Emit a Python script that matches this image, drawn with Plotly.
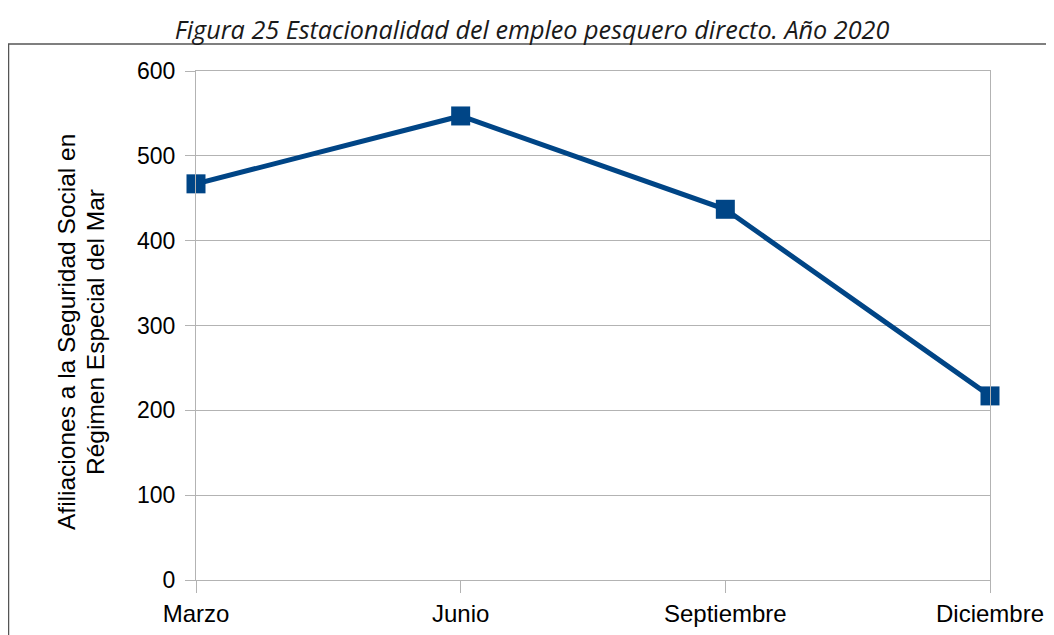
import plotly.graph_objects as go

months = ["Marzo", "Junio", "Septiembre", "Diciembre"]
afiliaciones = [467, 547, 437, 217]
y_ticks = [0, 100, 200, 300, 400, 500, 600]
y_title_lines = ["Afiliaciones a la Seguridad Social en", "Régimen Especial del Mar"]

# page body has an 8px margin, so figure coords = screen coords - 8
OFF = 8
W, H = 1054, 635
L, T = 196 - OFF, 71 - OFF
R = W - (990 - OFF)
B = H - (580 - OFF)
pw, ph = W - L - R, H - T - B

def px_x(x):
    return (x - OFF - L) / pw

def px_y(y):
    return (H - B - (y - OFF)) / ph

SANS = "Liberation Sans, Arial, sans-serif"

fig = go.Figure()
fig.add_trace(go.Scatter(
    x=list(range(len(months))), y=afiliaciones,
    mode="lines+markers",
    line=dict(color="#004586", width=5),
    marker=dict(symbol="square", size=19, color="#004586"),
    cliponaxis=False,
    showlegend=False,
))

annotations = []
for line, xc in zip(y_title_lines, [66.5, 95.5]):
    annotations.append(dict(
        text=line, xref="paper", yref="paper", x=px_x(xc), y=px_y(332.5),
        xanchor="center", yanchor="middle", textangle=-90, showarrow=False,
        font=dict(family=SANS, size=24.5, color="#000000"),
    ))

fig.update_layout(
    width=W, height=H,
    margin=dict(l=L, r=R, t=T, b=B),
    paper_bgcolor="white", plot_bgcolor="white",
    font=dict(family=SANS, size=21, color="#000000"),
    title=dict(
        text="Figura 25 Estacionalidad del empleo pesquero directo. Año 2020",
        x=(532 - OFF) / W, xanchor="center", y=1 - (30 - OFF) / H, yanchor="middle",
        font=dict(family="Open Sans, sans-serif", size=25.2, style="italic", color="#1a1a1a"),
    ),
    xaxis=dict(
        tickmode="array", tickvals=list(range(len(months))), ticktext=months,
        range=[0, 3], showgrid=False, zeroline=False,
        showline=True, linecolor="#b3b3b3", linewidth=1, mirror=True,
        ticks="outside", ticklen=12, tickcolor="#b3b3b3",
        tickfont=dict(family=SANS, size=24, color="#000000"),
    ),
    yaxis=dict(
        range=[0, 600], tickvals=y_ticks,
        showgrid=True, gridcolor="#b3b3b3", gridwidth=1, zeroline=False,
        showline=True, linecolor="#b3b3b3", linewidth=1, mirror=True,
        ticks="outside", ticklen=10, tickcolor="#b3b3b3",
        tickfont=dict(family=SANS, size=23, color="#000000"), ticklabelstandoff=5,
    ),
    annotations=annotations,
    shapes=[dict(
        type="rect", xref="paper", yref="paper",
        x0=px_x(8.5), x1=px_x(1070), y0=px_y(670), y1=px_y(44),
        line=dict(color="#555555", width=1.5), fillcolor="rgba(0,0,0,0)", layer="below",
    )],
)

fig.write_html("out.html")
